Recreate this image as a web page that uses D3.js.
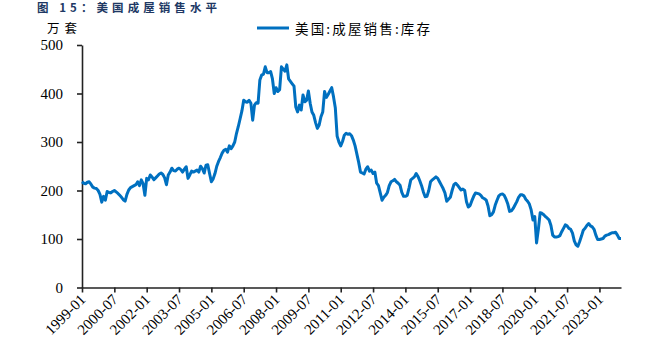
<!DOCTYPE html>
<html>
<head>
<meta charset="utf-8">
<script src="https://cdn.jsdelivr.net/npm/d3@7"></script>
<style>
  html, body { margin: 0; padding: 0; background: #fff; }
  svg { display: block; }
</style>
</head>
<body>
<svg id="chart" width="646" height="355"></svg>
<script>
// ---------------- DATA ----------------
const titleText = "图 15：美国成屋销售水平";
const unitLabel = "万套";
const seriesName = "美国:成屋销售:库存";
const startYear = 1999;   // first month: 1999-01, monthly to 2024-01

// Existing home sales: inventory (万套), monthly, one row per year
const v1999 = [218, 215, 214, 217, 218, 213, 207, 205, 204, 200, 192, 176];
const v2000 = [188, 180, 198, 196, 195, 198, 200, 197, 194, 190, 186, 181];
const v2001 = [178, 192, 201, 206, 208, 210, 212, 218, 210, 222, 214, 190];
const v2002 = [225, 222, 232, 228, 222, 226, 230, 234, 236, 233, 226, 212];
const v2003 = [232, 238, 246, 241, 240, 244, 246, 243, 238, 244, 249, 225];
const v2004 = [232, 240, 238, 240, 242, 238, 250, 245, 236, 252, 253, 235];
const v2005 = [218, 224, 235, 250, 260, 268, 277, 283, 285, 279, 292, 286];
const v2006 = [292, 300, 318, 332, 348, 364, 386, 383, 382, 386, 380, 345];
const v2007 = [376, 381, 380, 428, 438, 440, 455, 443, 443, 445, 430, 400];
const v2008 = [412, 404, 408, 455, 450, 446, 459, 430, 425, 420, 415, 372];
const v2009 = [362, 376, 366, 397, 383, 386, 405, 380, 362, 355, 340, 328];
const v2010 = [335, 352, 362, 404, 392, 398, 405, 412, 393, 370, 312, 300];
const v2011 = [292, 301, 314, 318, 316, 317, 313, 304, 292, 275, 258, 238];
const v2012 = [236, 234, 244, 249, 240, 242, 235, 238, 215, 210, 195, 180];
const v2013 = [186, 190, 196, 210, 218, 220, 223, 218, 215, 211, 196, 188];
const v2014 = [188, 190, 205, 222, 225, 228, 235, 229, 220, 210, 197, 187];
const v2015 = [188, 200, 218, 222, 225, 228, 225, 218, 211, 204, 195, 178];
const v2016 = [182, 186, 200, 212, 215, 211, 206, 201, 203, 200, 177, 166];
const v2017 = [169, 179, 188, 195, 194, 193, 190, 185, 183, 180, 168, 148];
const v2018 = [150, 156, 170, 180, 189, 192, 193, 190, 182, 172, 157, 158];
const v2019 = [163, 170, 177, 186, 191, 191, 189, 182, 178, 172, 160, 139];
const v2020 = [146, 92, 120, 154, 153, 150, 146, 143, 139, 128, 108, 104];
const v2021 = [104, 105, 107, 115, 122, 129, 127, 122, 120, 112, 96, 88];
const v2022 = [85, 95, 106, 118, 122, 128, 132, 127, 125, 120, 108, 99];
const v2023 = [99, 100, 101, 106, 108, 109, 111, 113, 113, 114, 108, 101];
const v2024 = [101];

const xTickLabels = ["1999-01", "2000-07", "2002-01", "2003-07", "2005-01", "2006-07",
  "2008-01", "2009-07", "2011-01", "2012-07", "2014-01", "2015-07", "2017-01",
  "2018-07", "2020-01", "2021-07", "2023-01"];
const yTicks = [0, 100, 200, 300, 400, 500];

// ---------------- BUILD ----------------
const values = [].concat(v1999, v2000, v2001, v2002, v2003, v2004, v2005, v2006,
  v2007, v2008, v2009, v2010, v2011, v2012, v2013, v2014, v2015, v2016, v2017,
  v2018, v2019, v2020, v2021, v2022, v2023, v2024);
const months = values.map((_, i) => {
  const y = startYear + Math.floor(i / 12);
  const m = (i % 12) + 1;
  return y + "-" + (m < 10 ? "0" + m : m);
});
const data = months.map((m, i) => ({ month: m, value: values[i] }));

const svg = d3.select("#chart");
const plot = { left: 82, right: 621, top: 45, bottom: 287.5 };

const x = d3.scalePoint().domain(months).range([plot.left, plot.right]);
const y = d3.scaleLinear().domain([0, 500]).range([plot.bottom, plot.top]);

const serif = "'Liberation Serif', 'Times New Roman', serif";
const cjk = "'Noto Sans CJK SC', 'Noto Sans', sans-serif";

// title
svg.append("text")
  .attr("x", 37).attr("y", 12)
  .attr("font-family", cjk).attr("font-size", 11.5).attr("font-weight", "bold")
  .attr("fill", "#203864")
  .attr("textLength", 180).attr("lengthAdjust", "spacing")
  .text(titleText);

// unit label
svg.append("text")
  .attr("x", 47).attr("y", 33)
  .attr("font-family", cjk).attr("font-size", 12.5)
  .attr("fill", "#000")
  .attr("textLength", 30).attr("lengthAdjust", "spacing")
  .text(unitLabel);

// legend
svg.append("line")
  .attr("x1", 257).attr("x2", 289).attr("y1", 28).attr("y2", 28)
  .attr("stroke", "#0070c0").attr("stroke-width", 3);
svg.append("text")
  .attr("x", 295).attr("y", 33.5)
  .attr("font-family", cjk).attr("font-size", 13.5)
  .attr("fill", "#000")
  .attr("textLength", 135).attr("lengthAdjust", "spacing")
  .text(seriesName);

// y axis
const yAxis = svg.append("g")
  .attr("transform", `translate(${plot.left},0)`)
  .call(d3.axisLeft(y).tickValues(yTicks).tickSize(5).tickSizeOuter(0).tickPadding(14));
yAxis.select(".domain").attr("stroke", "#222").attr("stroke-width", 1.6);
yAxis.selectAll(".tick line").attr("stroke", "#222").attr("stroke-width", 1.6);
yAxis.selectAll(".tick text")
  .attr("font-family", serif).attr("font-size", 15).attr("fill", "#000");

// x axis
const xAxis = svg.append("g")
  .attr("transform", `translate(0,${plot.bottom})`)
  .call(d3.axisBottom(x).tickValues(xTickLabels).tickSize(5).tickSizeOuter(0));
xAxis.select(".domain").attr("stroke", "#222").attr("stroke-width", 1.6);
xAxis.selectAll(".tick line").attr("stroke", "#222").attr("stroke-width", 1.6);
xAxis.selectAll(".tick text")
  .attr("font-family", serif).attr("font-size", 15).attr("fill", "#000")
  .attr("x", 0).attr("y", 0).attr("dy", 0)
  .attr("text-anchor", "end")
  .attr("transform", "translate(4,13) rotate(-45)");

// line
const line = d3.line()
  .x(d => x(d.month))
  .y(d => y(d.value));
svg.append("path")
  .datum(data)
  .attr("d", line)
  .attr("fill", "none")
  .attr("stroke", "#0070c0")
  .attr("stroke-width", 3)
  .attr("stroke-linejoin", "round");
</script>
</body>
</html>
